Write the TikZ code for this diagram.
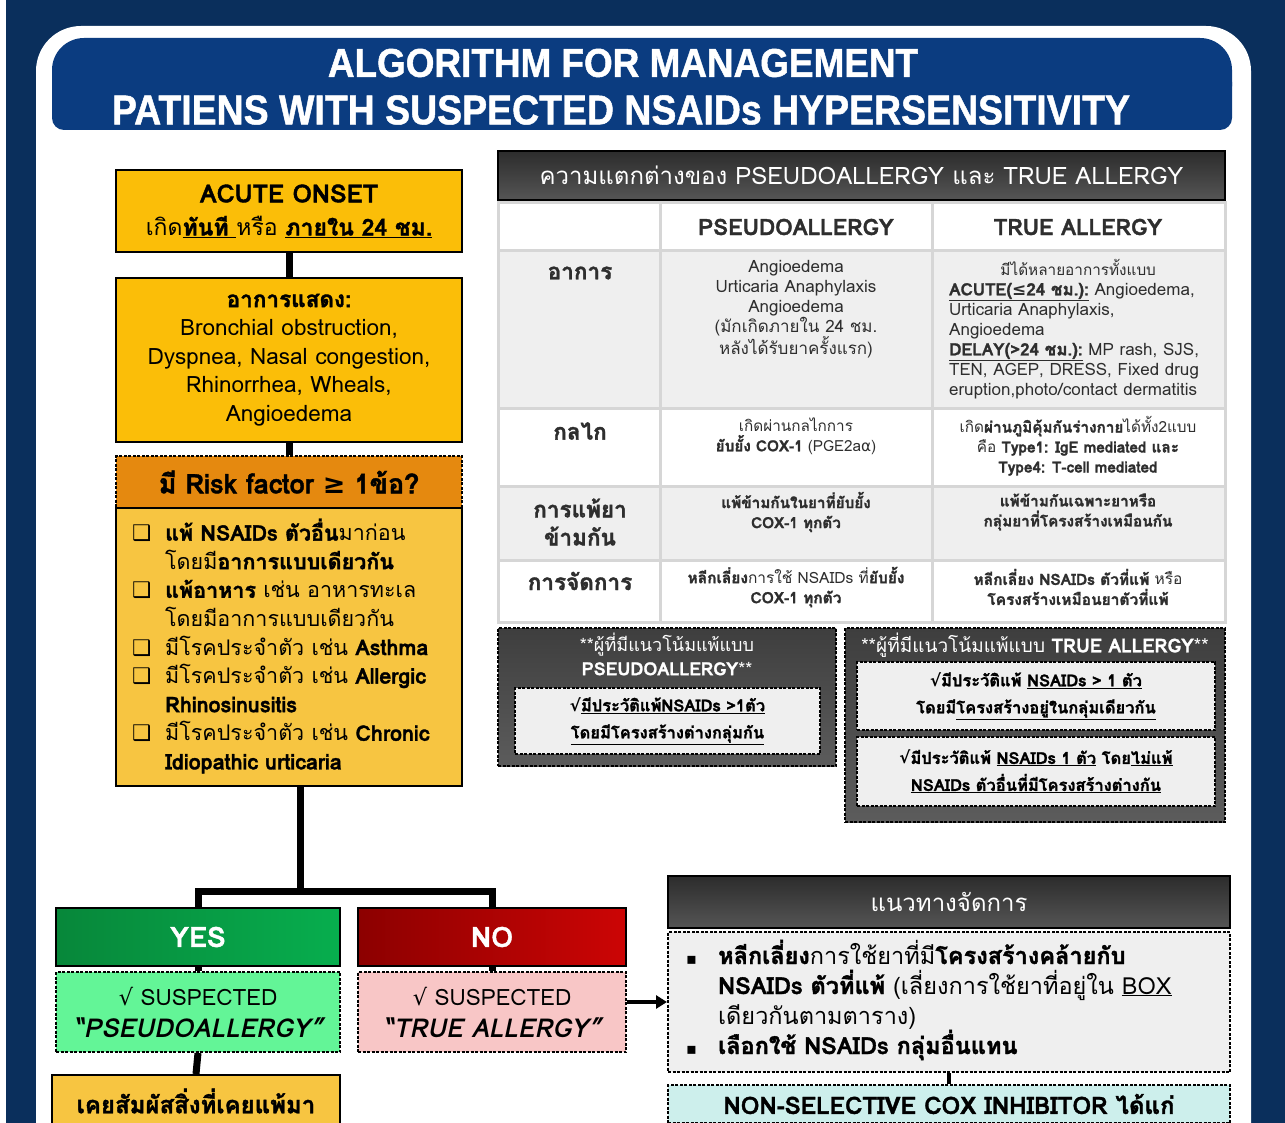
\documentclass[tikz,border=0pt]{standalone}
\usepackage{fontspec}
\usepackage{graphicx}
\setmainfont[Script=Thai, BoldFeatures={FakeBold=1.5}]{Loma}
\newfontfamily\symf{DejaVu Sans}
\newfontfamily\titlef[BoldFeatures={FakeBold=1.2}]{Liberation Sans}
\usetikzlibrary{arrows.meta}
\definecolor{navyframe}{HTML}{0A2F5C}
\definecolor{titleblue}{HTML}{0B3C80}
\definecolor{gold}{HTML}{FBBE08}
\definecolor{goldlight}{HTML}{F7C541}
\definecolor{riskorange}{HTML}{E5890F}
\definecolor{yesdark}{HTML}{07873A}
\definecolor{yeslight}{HTML}{07AE4E}
\definecolor{nodark}{HTML}{8C0000}
\definecolor{nolight}{HTML}{CC0505}
\definecolor{mint}{HTML}{63F597}
\definecolor{pinkbox}{HTML}{F8C6C6}
\definecolor{hdrdark}{HTML}{2C2C2C}
\definecolor{hdrlight}{HTML}{555555}
\definecolor{rowgray}{HTML}{EFEFEF}
\definecolor{gridgray}{HTML}{D6D6D6}
\definecolor{txtgray}{HTML}{2E2E2E}
\definecolor{boxdark}{HTML}{3E3E3E}
\definecolor{boxlight}{HTML}{5C5C5C}
\definecolor{innergray}{HTML}{EFEFEF}
\definecolor{cyanbox}{HTML}{CDEFEC}
\newcommand{\myul}[1]{\underline{#1}}
\newcommand{\chk}{{\symf\bfseries ❑}}
\newcommand{\sq}{{\symf √}}
\newcommand{\bul}{{\symf\fontsize{16}{16}\selectfont ▪}}
\tikzset{
  bar/.style={line width=7pt, black},
  thinbar/.style={line width=4pt, black},
  solidbox/.style={draw=black, line width=2pt, inner sep=0pt},
  dashbox/.style={draw=black, line width=2pt, dash pattern=on 3pt off 1.5pt, inner sep=0pt},
  celltext/.style={text=txtgray, align=center, inner sep=0pt, font=\fontsize{15.3}{20}\selectfont},
  latincell/.style={text=txtgray, align=center, inner sep=0pt, font=\fontsize{17}{20}\selectfont},
  celllabel/.style={text=txtgray, align=center, inner sep=0pt, font=\fontsize{22.5}{28}\selectfont\bfseries},
  tablegrid/.style={draw=gridgray, line width=3pt},
  darkhdr/.style={solidbox, top color=hdrdark, bottom color=hdrlight, text=white},
  graypanel/.style={dashbox, line width=2.5pt, top color=boxdark, bottom color=boxlight},
  innerpanel/.style={dashbox, fill=innergray, align=center, text=black, font=\fontsize{16.5}{27}\selectfont\bfseries},
  plain/.style={inner sep=0pt}
}
\begin{document}
\begin{tikzpicture}[x=1pt,y=-1pt]
\useasboundingbox (0,0) rectangle (1285,1123);
\clip (0,0) rectangle (1285,1123);
% frame
\fill[white] (0,0) rectangle (1285,1123);
\fill[navyframe] (6,0) rectangle (1285,1123);
\fill[white, rounded corners=45pt] (36,26) rectangle (1251,1200);
% title banner
\fill[titleblue, rounded corners=32pt] (52,38) rectangle (1232,118);
\fill[titleblue, rounded corners=12pt] (52,70) rectangle (1232,130);
\node[plain, text=white] (title1) at (623,63) {\titlef\bfseries\resizebox{590pt}{28pt}{ALGORITHM FOR MANAGEMENT}};
\node[plain, text=white] (title2) at (621,110) {\titlef\bfseries\resizebox{1018pt}{29pt}{PATIENS WITH SUSPECTED NSAIDs HYPERSENSITIVITY}};

% left column
\node[solidbox, fill=gold, minimum width=346pt, minimum height=82pt, align=center,
      font=\fontsize{23}{33}\selectfont] (onset) at (289,211)
  {{\fontsize{25}{33}\selectfont\bfseries ACUTE ONSET}\\
   เกิด\myul{\bfseries ทันที }หรือ \myul{\bfseries ภายใน 24 ชม.}};
\node[solidbox, fill=gold, minimum width=346pt, minimum height=164pt, align=center,
      font=\fontsize{22.5}{28.6}\selectfont] (sympt) at (289,360)
  {{\bfseries อาการแสดง:}\\Bronchial obstruction,\\Dyspnea, Nasal congestion,\\Rhinorrhea, Wheals,\\Angioedema};
\node[dashbox, fill=riskorange, minimum width=346pt, minimum height=52pt,
      font=\fontsize{27}{30}\selectfont\bfseries] (risk) at (289,482)
  {มี Risk factor {\symf ≥} 1ข้อ?};
\node[solidbox, fill=goldlight, minimum width=346pt, minimum height=278pt] (riskbody) at (289,647) {};
\node[plain, anchor=west, align=left, font=\fontsize{21.5}{28.6}\selectfont] (risklist) at (132,646)
  {\makebox[33pt][l]{\chk}{\bfseries แพ้ NSAIDs ตัวอื่น}มาก่อน\\
   \makebox[33pt]{}โดยมี{\bfseries อาการแบบเดียวกัน}\\
   \makebox[33pt][l]{\chk}{\bfseries แพ้อาหาร} เช่น อาหารทะเล\\
   \makebox[33pt]{}โดยมีอาการแบบเดียวกัน\\
   \makebox[33pt][l]{\chk}มีโรคประจำตัว เช่น {\bfseries Asthma}\\
   \makebox[33pt][l]{\chk}มีโรคประจำตัว เช่น {\bfseries Allergic}\\
   \makebox[33pt]{}{\bfseries Rhinosinusitis}\\
   \makebox[33pt][l]{\chk}มีโรคประจำตัว เช่น {\bfseries Chronic}\\
   \makebox[33pt]{}{\bfseries Idiopathic urticaria}};

\node[solidbox, left color=yesdark, right color=yeslight, text=white, minimum width=284pt, minimum height=58pt,
      font=\fontsize{28}{30}\selectfont\bfseries] (yes) at (198,937) {YES};
\node[solidbox, left color=nodark, right color=nolight, text=white, minimum width=268pt, minimum height=58pt,
      font=\fontsize{28}{30}\selectfont\bfseries] (no) at (492,937) {NO};
\node[dashbox, fill=mint, minimum width=284pt, minimum height=80pt, align=center,
      font=\fontsize{22.5}{32}\selectfont] (pseudo) at (198,1012)
  {\sq\ SUSPECTED\\{\fontsize{26}{32}\selectfont\bfseries\itshape “PSEUDOALLERGY”}};
\node[dashbox, fill=pinkbox, minimum width=268pt, minimum height=80pt, align=center,
      font=\fontsize{22.5}{32}\selectfont] (truea) at (492,1012)
  {\sq\ SUSPECTED\\{\fontsize{26}{32}\selectfont\bfseries\itshape “TRUE ALLERGY”}};
\node[solidbox, fill=goldlight, minimum width=288pt, minimum height=52pt,
      font=\fontsize{24}{28}\selectfont\bfseries] (expo) at (196,1101) {เคยสัมผัสสิ่งที่เคยแพ้มา};

% connectors left
\draw[bar] (onset.south) -- (sympt.north);
\draw[bar] (sympt.south) -- (risk.north);
\coordinate (split) at (300,891);
\draw[bar] (300,786) -- (split);
\draw[bar] (yes.north) -- (yes.north |- split) -- (no.north |- split) -- (no.north);
\draw[bar] (yes.south) -- (pseudo.north);
\draw[bar] (no.south) -- (truea.north);
\draw[bar] (pseudo.south) -- (expo.north);

% table
\node[darkhdr, minimum width=727pt, minimum height=49pt, font=\fontsize{24}{26}\selectfont] (thead) at (861.5,175.5)
  {ความแตกต่างของ PSEUDOALLERGY และ TRUE ALLERGY};
\fill[white] (498,203) rectangle (1225,622);
\fill[rowgray] (498,251) rectangle (1225,408);
\fill[rowgray] (498,486) rectangle (1225,560);
\draw[tablegrid] (498,203) rectangle (1225,622);
\draw[tablegrid] (660,203) -- (660,622);
\draw[tablegrid] (932,203) -- (932,622);
\draw[tablegrid] (498,251) -- (1225,251);
\draw[tablegrid] (498,408) -- (1225,408);
\draw[tablegrid] (498,486) -- (1225,486);
\draw[tablegrid] (498,560) -- (1225,560);

\node[celllabel] (hpseudo) at (796,227) {PSEUDOALLERGY};
\node[celllabel] (htrue) at (1078,227) {TRUE ALLERGY};
\node[celllabel] (lsym) at (580,273) {อาการ};
\node[celllabel] (lmech) at (580,431) {กลไก};
\node[celllabel] (lcross) at (580,522) {การแพ้ยา\\ข้ามกัน};
\node[celllabel] (lmgmt) at (580,581) {การจัดการ};

\node[latincell] (psym) at (796,309)
  {Angioedema\\Urticaria Anaphylaxis\\Angioedema\\(มักเกิดภายใน 24 ชม.\\หลังได้รับยาครั้งแรก)};
\node[latincell, align=left, anchor=west] (tsym) at (949,329)
  {\makebox[258pt][c]{\fontsize{15.3}{20}\selectfont มีได้หลายอาการทั้งแบบ}\\
   \myul{\bfseries ACUTE({\symf ≤}24 ชม.):} Angioedema,\\Urticaria Anaphylaxis,\\Angioedema\\
   \myul{\bfseries DELAY(>24 ชม.):} MP rash, SJS,\\TEN, AGEP, DRESS, Fixed drug\\eruption,photo/contact dermatitis};
\node[celltext] (pmech) at (796,436)
  {เกิดผ่านกลไกการ\\{\bfseries ยับยั้ง COX-1} (PGE2a{\symf α})};
\node[celltext] (tmech) at (1078,446)
  {เกิด{\bfseries ผ่านภูมิคุ้มกันร่างกาย}ได้ทั้ง2แบบ\\คือ {\bfseries Type1: IgE mediated และ}\\{\bfseries Type4: T-cell mediated}};
\node[celltext, font=\fontsize{15.3}{20}\selectfont\bfseries] (pcross) at (796,512)
  {แพ้ข้ามกันในยาที่ยับยั้ง\\COX-1 ทุกตัว};
\node[celltext, font=\fontsize{15.3}{20}\selectfont\bfseries] (tcross) at (1078,512)
  {แพ้ข้ามกันเฉพาะยาหรือ\\กลุ่มยาที่โครงสร้างเหมือนกัน};
\node[celltext, font=\fontsize{15.5}{20}\selectfont] (pmgmt) at (796,587)
  {{\bfseries หลีกเลี่ยง}การใช้ NSAIDs ที่{\bfseries ยับยั้ง}\\{\bfseries COX-1 ทุกตัว}};
\node[celltext, font=\fontsize{15.5}{20}\selectfont] (tmgmt) at (1078,587)
  {{\bfseries หลีกเลี่ยง NSAIDs ตัวที่แพ้} หรือ\\{\bfseries โครงสร้างเหมือนยาตัวที่แพ้}};

% tendency panels
\node[graypanel, minimum width=338pt, minimum height=138pt] (ppanel) at (667,697) {};
\node[plain, text=white, align=center, font=\fontsize{18}{24}\selectfont] (ptitle) at (667,654)
  {**ผู้ที่มีแนวโน้มแพ้แบบ\\{\bfseries PSEUDOALLERGY}**};
\node[innerpanel, minimum width=305pt, minimum height=66pt] (pin) at (667.5,721)
  {\sq\myul{มีประวัติแพ้NSAIDs >1ตัว}\\\myul{โดยมีโครงสร้างต่างกลุ่มกัน}};
\node[graypanel, minimum width=380pt, minimum height=194pt] (tpanel) at (1035,725) {};
\node[plain, text=white, font=\fontsize{19}{24}\selectfont] (ttitle) at (1035,645)
  {**ผู้ที่มีแนวโน้มแพ้แบบ {\bfseries TRUE ALLERGY}**};
\node[innerpanel, minimum width=358pt, minimum height=68pt] (tin1) at (1036,696)
  {\sq มีประวัติแพ้ \myul{NSAIDs > 1 ตัว}\\โดยมี\myul{โครงสร้างอยู่ในกลุ่มเดียวกัน}};
\node[innerpanel, minimum width=358pt, minimum height=69pt] (tin2) at (1036,771.5)
  {\sq มีประวัติแพ้ \myul{NSAIDs 1 ตัว} โดย\myul{ไม่แพ้}\\\myul{NSAIDs ตัวอื่นที่มีโครงสร้างต่างกัน}};

% guidance
\node[darkhdr, minimum width=562pt, minimum height=52pt, font=\fontsize{24}{26}\selectfont] (ghead) at (949,902) {แนวทางจัดการ};
\node[dashbox, fill=rowgray, minimum width=562pt, minimum height=140pt] (gbody) at (949,1002) {};
\node[plain, anchor=west, align=left, font=\fontsize{23.5}{30}\selectfont] (glist) at (686,1000)
  {\makebox[32pt][l]{\bul}{\bfseries หลีกเลี่ยง}การใช้ยาที่มี{\bfseries โครงสร้างคล้ายกับ}\\
   \makebox[32pt]{}{\bfseries NSAIDs ตัวที่แพ้} (เลี่ยงการใช้ยาที่อยู่ใน \myul{BOX}\\
   \makebox[32pt]{}เดียวกันตามตาราง)\\
   \makebox[32pt][l]{\bul}{\bfseries เลือกใช้ NSAIDs กลุ่มอื่นแทน}};
\node[dashbox, fill=cyanbox, minimum width=562pt, minimum height=38pt,
      font=\fontsize{24}{26}\selectfont\bfseries] (nonsel) at (949,1104) {NON-SELECTIVE COX INHIBITOR ได้แก่};
\draw[thinbar] (gbody.south) -- (nonsel.north);
\draw[line width=3.5pt, -{Triangle[length=11pt,width=13pt]}] (truea.east |- gbody.west) -- (gbody.west);
\end{tikzpicture}
\end{document}
